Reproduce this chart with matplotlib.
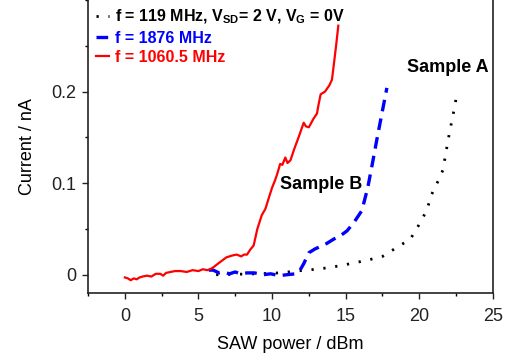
import matplotlib
matplotlib.use("Agg")
import matplotlib.pyplot as plt
from matplotlib.ticker import MultipleLocator

plt.rcParams['font.family'] = ['Liberation Sans', 'DejaVu Sans']
plt.rcParams['mathtext.fontset'] = 'custom'
plt.rcParams['mathtext.rm'] = 'Liberation Sans:bold'

# sample A, f = 119 MHz (black dotted)
black_x = [6.2, 7.5, 9.0, 10.5, 11.9, 13.0, 14.0, 15.3, 16.5, 17.5, 18.5, 19.4, 20.0,
           20.5, 20.85, 21.3, 21.6, 21.95, 22.1, 22.3, 22.45, 22.55]
black_y = [0.0, 0.0005, 0.001, 0.002, 0.0044, 0.006, 0.008, 0.012, 0.016, 0.02, 0.03,
           0.039, 0.055, 0.07, 0.088, 0.103, 0.114, 0.146, 0.159, 0.175, 0.187, 0.199]

# sample B, f = 1876 MHz (blue dashed)
blue_x = [5.7, 6.0, 6.4, 6.7, 7.1, 7.5, 7.85, 8.3, 8.8, 9.4, 9.9, 10.5, 11.0, 11.6, 11.9,
          12.15, 12.5, 12.9, 13.3, 13.7, 14.2, 14.6, 15.1, 15.6, 16.1, 16.5, 16.8, 17.1,
          17.45, 17.8]
blue_y = [0.005, 0.005, 0.002, 0.003, 0.001, 0.003, 0.001, 0.002, 0.002, 0.0, 0.001, -0.001,
          0.0, 0.001, 0.005, 0.012, 0.024, 0.028, 0.031, 0.034, 0.039, 0.042, 0.048, 0.058,
          0.07, 0.095, 0.12, 0.146, 0.175, 0.204]

# sample B, f = 1060.5 MHz (red solid)
red_x = [0, 0.2, 0.4, 0.6, 0.8, 1.0, 1.2, 1.5, 1.8, 2.1, 2.4, 2.6, 2.8, 3.1, 3.4, 3.8, 4.2,
         4.6, 5.0, 5.3, 5.6, 5.8, 6.0, 6.4, 6.9, 7.3, 7.6, 7.9, 8.1, 8.3, 8.5, 8.75, 9.0,
         9.3, 9.55, 9.8, 10.0, 10.2, 10.35, 10.55, 10.7, 10.9, 11.05, 11.25, 11.5, 11.8,
         12.15, 12.3, 12.5, 12.8, 13.05, 13.15, 13.3, 13.6, 13.9, 14.07, 14.2, 14.35, 14.5]
red_y = [-0.003, -0.004, -0.006, -0.004, -0.005, -0.003, -0.002, -0.001, -0.002, 0.001,
         0.001, -0.001, 0.002, 0.003, 0.004, 0.004, 0.003, 0.005, 0.004, 0.006, 0.005, 0.006,
         0.008, 0.013, 0.019, 0.021, 0.022, 0.02, 0.022, 0.022, 0.027, 0.032, 0.05, 0.065,
         0.072, 0.085, 0.095, 0.103, 0.11, 0.121, 0.12, 0.128, 0.122, 0.125, 0.137, 0.15,
         0.166, 0.162, 0.161, 0.17, 0.176, 0.185, 0.197, 0.2, 0.207, 0.213, 0.23, 0.25, 0.272]

labels = [r"f = 119 MHz, V$_\mathrm{SD}$= 2 V, V$_\mathrm{G}$ = 0V",
          "f = 1876 MHz",
          "f = 1060.5 MHz"]

fig = plt.figure(figsize=(5.15, 3.6), dpi=100)
ax = fig.add_axes([0.171, 0.186, 0.786, 0.814])

l1, = ax.plot(black_x, black_y, color='black', lw=2.0, dashes=(0.8, 3.5),
              dash_capstyle='butt')
l2, = ax.plot(blue_x, blue_y, color='#0000ff', lw=2.4, dashes=(3.5, 2.2),
              dash_capstyle='butt')
l3, = ax.plot(red_x, red_y, color='#ff0000', lw=1.6)

leg = ax.legend([l1, l2, l3], labels, loc='upper left', bbox_to_anchor=(0.0, 1.0),
                frameon=False, handlelength=0.8, handletextpad=0.4, labelspacing=0.27,
                borderpad=0.3, borderaxespad=0.2, labelcolor='linecolor',
                prop={'weight': 'bold', 'size': 11.5})

ax.text(21.95, 0.226, "Sample A", ha='center', va='center', fontsize=13, fontweight='bold')
ax.text(13.33, 0.099, "Sample B", ha='center', va='center', fontsize=13, fontweight='bold')

ax.set_xlim(-2.5, 25)
ax.set_ylim(-0.02, 0.3)
ax.xaxis.set_major_locator(MultipleLocator(5))
ax.xaxis.set_minor_locator(MultipleLocator(2.5))
ax.set_yticks([0, 0.1, 0.2])
ax.set_yticklabels(['0', '0.1', '0.2'])
ax.yaxis.set_minor_locator(MultipleLocator(0.05))

ax.tick_params(which='major', direction='out', length=4.5, width=1, labelsize=13,
               colors='#222222')
ax.tick_params(which='minor', direction='out', length=2.5, width=1)
ax.tick_params(axis='x', which='major', pad=6)
ax.tick_params(axis='y', which='major', pad=4)
ax.spines['top'].set_visible(False)
for s in ['left', 'bottom', 'right']:
    ax.spines[s].set_linewidth(1.2)
    ax.spines[s].set_color('#222222')

ax.set_xlabel("SAW power / dBm", fontsize=13, labelpad=8)
ax.set_ylabel("Current / nA", fontsize=13, labelpad=11)

fig.savefig("out.png", dpi=100)
